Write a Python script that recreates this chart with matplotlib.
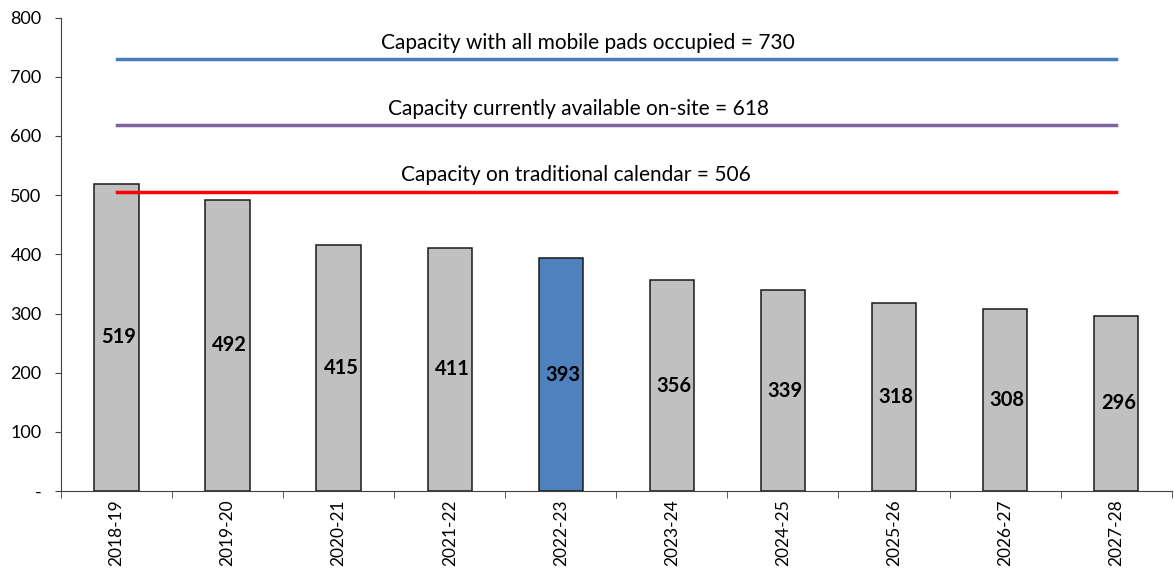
import matplotlib.pyplot as plt

years = ["2018-19", "2019-20", "2020-21", "2021-22", "2022-23",
         "2023-24", "2024-25", "2025-26", "2026-27", "2027-28"]
enrollment = [519, 492, 415, 411, 393, 356, 339, 318, 308, 296]
current_year = "2022-23"

cap_labels = ["Capacity with all mobile pads occupied",
              "Capacity currently available on-site",
              "Capacity on traditional calendar"]
cap_values = [730, 618, 506]
cap_colors = ["#4A7EBB", "#8064A2", "#FF0000"]
cap_text_x = [4.24, 4.16, 4.14]
y_ticks = [0, 100, 200, 300, 400, 500, 600, 700, 800]


def main():
    plt.rcParams['font.family'] = ["Lato", "DejaVu Sans"]
    fig = plt.figure(figsize=(11.74, 5.69), dpi=100)
    ax = fig.add_axes([0.052, 0.137, 0.946, 0.832])

    x = list(range(len(years)))
    colors = ["#4F81BD" if y == current_year else "#C0C0C0" for y in years]
    ax.bar(x, enrollment, width=0.4, color=colors, edgecolor="#1a1a1a",
           linewidth=1.1, zorder=2)

    for xi, v in zip(x, enrollment):
        ax.text(xi + 0.02, v / 2, str(v), ha="center", va="center",
                fontsize=14.5, fontweight="bold", color="black", zorder=4)

    for lab, val, col, tx in zip(cap_labels, cap_values, cap_colors, cap_text_x):
        ax.plot([x[0], x[-1]], [val, val], color=col, linewidth=2.5, zorder=3)
        ax.text(tx, val + 11, f"{lab} = {val}", ha="center", va="bottom",
                fontsize=15, color="black", zorder=4)

    ax.set_xlim(-0.5, len(years) - 0.5)
    ax.set_ylim(0, 800)
    ax.set_yticks(y_ticks)
    ax.set_yticklabels(["-"] + [str(t) for t in y_ticks[1:]], fontsize=13)
    ax.set_xticks(x)
    ax.set_xticklabels(years, rotation=90, fontsize=12.5)
    ax.tick_params(axis="x", length=0, pad=6)
    ax.set_xticks([i - 0.5 for i in range(len(years) + 1)], minor=True)
    ax.tick_params(axis="x", which="minor", length=5, color="#404040")
    ax.tick_params(axis="y", length=4, color="#404040", pad=10)

    for s in ["top", "right"]:
        ax.spines[s].set_visible(False)
    for s in ["left", "bottom"]:
        ax.spines[s].set_color("#404040")

    fig.savefig("out.png")


if __name__ == '__main__':
    main()
